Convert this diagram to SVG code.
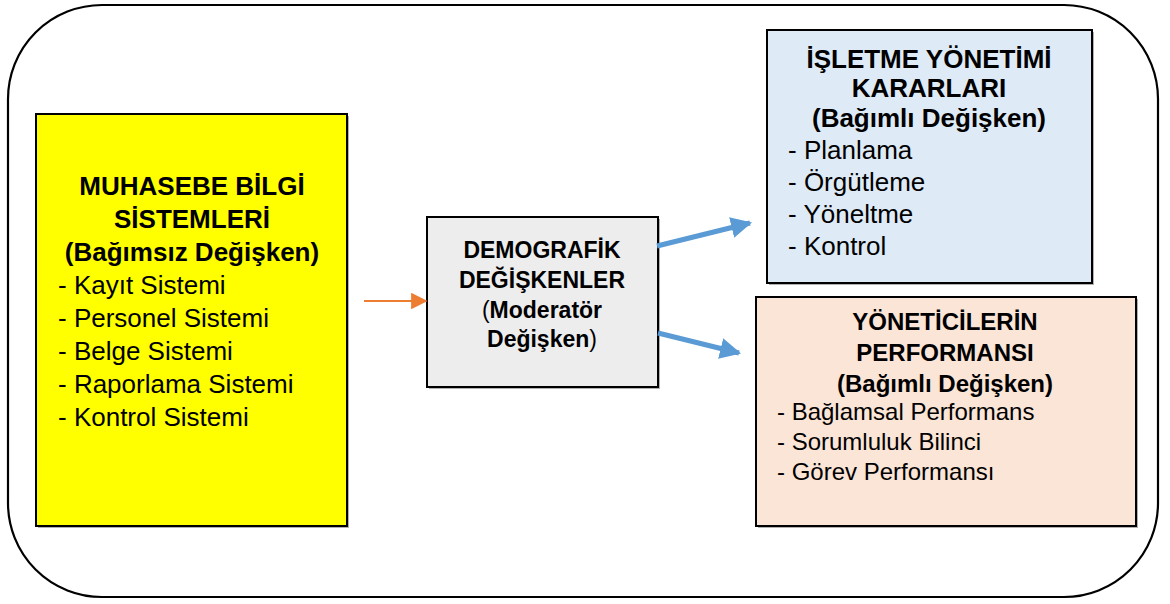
<svg xmlns="http://www.w3.org/2000/svg" width="1170" height="604" viewBox="0 0 1170 604">
  <defs>
    <style>
      text { font-family: "Liberation Sans", Arial, sans-serif; fill: #000; }
      .frame { fill: #fff; stroke: #000; stroke-width: 2.2; }
      .box { stroke: #000; stroke-width: 2; }
      .shadow { fill: #b0b0b0; }
      .b { font-weight: bold; }
      .t26 { font-size: 26px; }
      .t23 { font-size: 23px; }
      .t24 { font-size: 24px; }
      .mid { text-anchor: middle; }
      .blue { stroke: #5B9BD5; stroke-width: 5; fill: none; }
      .orange { stroke: #ED7D31; stroke-width: 2.2; fill: none; }
    </style>
    <marker id="headBlue" viewBox="0 0 10 10" refX="9" refY="5" markerWidth="4.2" markerHeight="4.2" orient="auto" markerUnits="strokeWidth">
      <path d="M0,0 L10,5 L0,10 Z" fill="#5B9BD5"/>
    </marker>
    <marker id="headOrange" viewBox="0 0 10 10" refX="9" refY="5" markerWidth="7.5" markerHeight="7.5" orient="auto" markerUnits="strokeWidth">
      <path d="M0,0 L10,5 L0,10 Z" fill="#ED7D31"/>
    </marker>
  </defs>

  <!-- outer rounded frame -->
  <rect class="frame" x="8" y="5" width="1150" height="592" rx="94" ry="94"/>

  <!-- independent variable -->
  <g id="muhasebe">
    <rect class="shadow" x="38" y="116" width="311" height="412"/>
    <rect class="box" x="36" y="114" width="311" height="412" fill="#FFFF00"/>
    <text class="b t26 mid" x="192" y="195">MUHASEBE BİLGİ</text>
    <text class="b t26 mid" x="192" y="228">SİSTEMLERİ</text>
    <text class="b t26 mid" x="192" y="261">(Bağımsız Değişken)</text>
    <text class="t26" x="58" y="294">- Kayıt Sistemi</text>
    <text class="t26" x="58" y="327">- Personel Sistemi</text>
    <text class="t26" x="58" y="360">- Belge Sistemi</text>
    <text class="t26" x="58" y="393">- Raporlama Sistemi</text>
    <text class="t26" x="58" y="426">- Kontrol Sistemi</text>
  </g>

  <!-- moderator -->
  <g id="demografik">
    <rect class="shadow" x="429" y="219" width="231" height="170"/>
    <rect class="box" x="427" y="217" width="231" height="170" fill="#EDEDED"/>
    <text class="b t23 mid" x="542" y="258">DEMOGRAFİK</text>
    <text class="b t23 mid" x="542" y="288">DEĞİŞKENLER</text>
    <text class="t23 mid" x="542" y="318">(<tspan class="b">Moderatör</tspan></text>
    <text class="t23 mid" x="542" y="347"><tspan class="b">Değişken</tspan>)</text>
  </g>

  <!-- dependent variable 1 -->
  <g id="isletme">
    <rect class="shadow" x="769" y="32" width="325" height="253"/>
    <rect class="box" x="767" y="30" width="325" height="253" fill="#DEEBF7"/>
    <text class="b t26 mid" x="929" y="68">İŞLETME YÖNETİMİ</text>
    <text class="b t26 mid" x="929" y="97">KARARLARI</text>
    <text class="b t26 mid" x="929" y="127">(Bağımlı Değişken)</text>
    <text class="t26" x="788" y="159">- Planlama</text>
    <text class="t26" x="788" y="191">- Örgütleme</text>
    <text class="t26" x="788" y="223">- Yöneltme</text>
    <text class="t26" x="788" y="255">- Kontrol</text>
  </g>

  <!-- dependent variable 2 -->
  <g id="performans">
    <rect class="shadow" x="758" y="299" width="380" height="229"/>
    <rect class="box" x="756" y="297" width="380" height="229" fill="#FBE5D6"/>
    <text class="b t24 mid" x="945" y="330">YÖNETİCİLERİN</text>
    <text class="b t24 mid" x="945" y="361">PERFORMANSI</text>
    <text class="b t24 mid" x="945" y="392">(Bağımlı Değişken)</text>
    <text class="t24" x="777" y="420">- Bağlamsal Performans</text>
    <text class="t24" x="777" y="450">- Sorumluluk Bilinci</text>
    <text class="t24" x="777" y="480">- Görev Performansı</text>
  </g>

  <!-- connectors -->
  <g id="connectors">
    <line class="orange" x1="364" y1="301" x2="426" y2="301" marker-end="url(#headOrange)"/>
    <line class="blue" x1="657" y1="246" x2="750" y2="223" marker-end="url(#headBlue)"/>
    <line class="blue" x1="658" y1="333" x2="739" y2="353" marker-end="url(#headBlue)"/>
  </g>
</svg>
